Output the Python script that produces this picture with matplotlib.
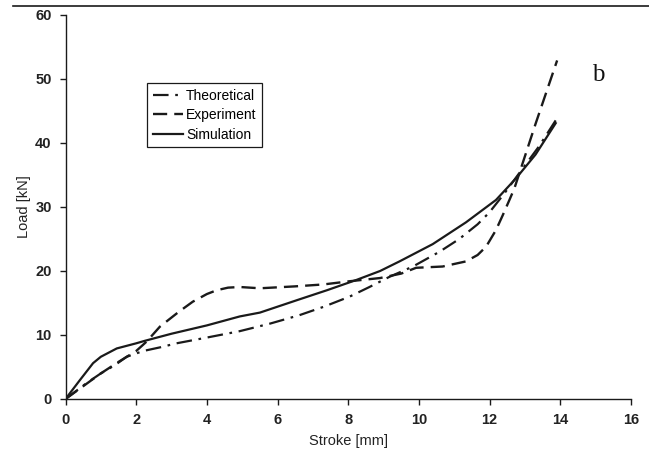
import matplotlib
matplotlib.use("Agg")
import matplotlib.pyplot as plt
from matplotlib.lines import Line2D

plt.rcParams['font.family'] = ['Liberation Sans', 'DejaVu Sans']

# Data
theo_x = [0, 0.6, 1.0, 1.4, 1.73, 2.2, 2.7, 3.14, 4.0, 4.93, 5.8, 6.62, 7.3, 8.04, 8.6, 9.17, 9.83, 10.58, 11.14, 11.66, 12.0, 12.4, 12.8, 13.4, 13.97]
theo_y = [0, 2.5, 4.0, 5.3, 6.6, 7.5, 8.1, 8.7, 9.6, 10.6, 11.8, 13.1, 14.4, 16.0, 17.5, 19.1, 20.7, 23.0, 25.0, 27.3, 29.2, 32.0, 35.0, 39.5, 44.4]

exp_x = [0, 0.5, 1.0, 1.5, 2.0, 2.3, 2.67, 3.2, 3.6, 4.0, 4.28, 4.6, 4.93, 5.5, 6.5, 7.3, 8.04, 8.9, 9.5, 9.92, 10.67, 11.33, 11.66, 11.9, 12.18, 12.37, 12.56, 12.7, 13.3, 13.91]
exp_y = [0, 2.0, 4.0, 5.8, 7.5, 9.0, 11.3, 13.6, 15.2, 16.4, 17.0, 17.4, 17.5, 17.3, 17.6, 17.9, 18.4, 18.9, 19.6, 20.5, 20.7, 21.5, 22.5, 23.8, 26.4, 28.7, 31.1, 32.9, 43.0, 52.9]

sim_x = [0, 0.4, 0.78, 1.0, 1.45, 2.0, 2.25, 3.0, 4.0, 4.93, 5.5, 6.58, 7.4, 8.23, 8.9, 9.45, 10.39, 11.33, 12.18, 12.75, 13.3, 13.87]
sim_y = [0, 2.9, 5.6, 6.6, 7.9, 8.7, 9.1, 10.2, 11.5, 12.9, 13.5, 15.5, 17.0, 18.6, 20.0, 21.5, 24.2, 27.6, 31.1, 34.5, 38.2, 43.1]

labels = ['Theoretical', 'Experiment', 'Simulation']
x_ticks = [0, 2, 4, 6, 8, 10, 12, 14, 16]
y_ticks = [0, 10, 20, 30, 40, 50, 60]

W, H = 649, 457
fig = plt.figure(figsize=(W / 100, H / 100), dpi=100)
ax = fig.add_axes([65.5 / W, 1 - 399 / H, (631 - 65.5) / W, (399 - 15) / H])

col = '#1a1a1a'
kw = dict(color=col, solid_joinstyle='round', dash_joinstyle='round')
ax.plot(theo_x, theo_y, lw=1.6, dashes=(7, 3, 1.2, 3), label=labels[0], **kw)
ax.plot(exp_x, exp_y, lw=1.7, dashes=(6, 3), label=labels[1], **kw)
ax.plot(sim_x, sim_y, lw=1.6, label=labels[2], **kw)

ax.set_xlim(0, 16)
ax.set_ylim(0, 60)
ax.set_xticks(x_ticks)
ax.set_yticks(y_ticks)
for s in ['top', 'right']:
    ax.spines[s].set_visible(False)
for s in ['left', 'bottom']:
    ax.spines[s].set_color(col)
    ax.spines[s].set_linewidth(1.0)
ax.tick_params(direction='out', length=4, width=1.0, colors=col, labelsize=10.5, pad=6)
for lab in ax.get_xticklabels() + ax.get_yticklabels():
    lab.set_fontweight('bold')
    lab.set_color('#222222')

ax.set_xlabel('Stroke [mm]', fontsize=10.5, color='#222222', labelpad=5)
ax.set_ylabel('Load [kN]', fontsize=10.5, color='#222222', labelpad=3)

leg = ax.legend(loc='upper left', bbox_to_anchor=(147 / W, 1 - 83 / H),
                bbox_transform=fig.transFigure, fontsize=10, frameon=True,
                fancybox=False, edgecolor=col, framealpha=1, handlelength=2.2,
                handletextpad=0.2, borderpad=0.4, labelspacing=0.4,
                borderaxespad=0)
leg.get_frame().set_linewidth(0.9)

fig.text(598 / W, 1 - 75 / H, 'b', family=['Liberation Serif', 'DejaVu Serif'],
         fontsize=18, ha='center', va='center', color='#111111')

fig.add_artist(Line2D([13 / W, 1.0], [1 - 6 / H, 1 - 6 / H], transform=fig.transFigure,
                      color=col, lw=1.2))

fig.savefig('out.png', dpi=100)
